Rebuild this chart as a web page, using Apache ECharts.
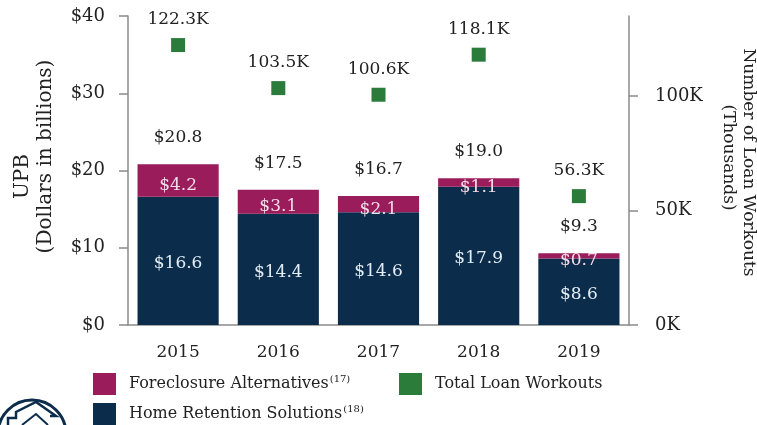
<!DOCTYPE html>
<html>
<head>
<meta charset="utf-8">
<script src="https://cdn.jsdelivr.net/npm/echarts@6/dist/echarts.min.js"></script>
<style>
  html, body { margin: 0; padding: 0; background: #ffffff; }
  #chart { width: 757px; height: 425px; }
</style>
</head>
<body>
<div id="chart"></div>
<script>
// Loan workout activity by year
const years = ['2015', '2016', '2017', '2018', '2019'];
const homeRetention = [16.6, 14.4, 14.6, 17.9, 8.6];          // $ billions
const foreclosureAlternatives = [4.2, 3.1, 2.1, 1.1, 0.7];    // $ billions
const totalWorkouts = [122.3, 103.5, 100.6, 118.1, 56.3];     // thousands of loans
const upbTicks = [0, 10, 20, 30, 40];
const workoutTicks = [0, 50, 100];

const totals = homeRetention.map((v, i) => +(v + foreclosureAlternatives[i]).toFixed(1));

const FONT = 'DejaVu Serif';
const NAVY = '#0c2c4b';
const MAGENTA = '#9a1c5b';
const GREEN = '#2b7b3b';
const AXIS = '#8a8a8a';
const TEXT = '#222222';

const notes = { 'Foreclosure Alternatives': '(17)', 'Home Retention Solutions': '(18)' };

function legendAt(left, top, name) {
  return {
    left: left, top: top, padding: 0,
    itemWidth: 23, itemHeight: 22,
    icon: 'rect',
    data: [name],
    formatter: n => '{t|' + n + '}' + (notes[n] ? '{s|' + notes[n] + '}' : ''),
    textStyle: {
      color: TEXT,
      rich: {
        t: { fontFamily: FONT, fontSize: 16, color: TEXT, padding: [0, 0, 0, 8] },
        s: { fontFamily: FONT, fontSize: 10, color: TEXT, verticalAlign: 'top', padding: [0, 0, 10, 1] }
      }
    }
  };
}

const chart = echarts.init(document.getElementById('chart'));

chart.setOption({
  animation: false,
  textStyle: { fontFamily: FONT },
  grid: { left: 128, right: 128, top: 16, bottom: 100, outerBoundsMode: 'none' },
  legend: [
    legendAt(93, 373, 'Foreclosure Alternatives'),
    legendAt(93, 403, 'Home Retention Solutions'),
    legendAt(399, 373, 'Total Loan Workouts')
  ],
  xAxis: {
    type: 'category',
    data: years,
    axisLine: { lineStyle: { color: AXIS, width: 1.5 } },
    axisTick: { show: false },
    axisLabel: { color: TEXT, fontFamily: FONT, fontSize: 17, margin: 19 }
  },
  yAxis: [
    {
      type: 'value',
      min: 0, max: 40, interval: 10,
      name: '{u|UPB}\n(Dollars in billions)',
      nameLocation: 'middle',
      nameGap: 71,
      nameRotate: 90,
      nameMoveOverlap: false,
      nameTextStyle: {
        color: TEXT, fontFamily: FONT, fontSize: 20, lineHeight: 23,
        padding: [0, 0, 0, 28],
        rich: { u: { fontFamily: FONT, fontSize: 20, color: TEXT, padding: [0, 40, 0, 0] } }
      },
      axisLine: { show: true, lineStyle: { color: AXIS, width: 1.5 } },
      axisTick: { show: true, length: 9, lineStyle: { color: AXIS, width: 1.5 } },
      splitLine: { show: false },
      axisLabel: {
        color: TEXT, fontFamily: FONT, fontSize: 18, margin: 23,
        customValues: upbTicks,
        formatter: v => '$' + v
      }
    },
    {
      type: 'value',
      position: 'right',
      min: 0, max: 135,
      name: 'Number of Loan Workouts\n{p|(Thousands)}',
      nameLocation: 'middle',
      nameGap: 89,
      nameRotate: -90,
      nameMoveOverlap: false,
      nameTextStyle: {
        color: TEXT, fontFamily: FONT, fontSize: 17, lineHeight: 20,
        padding: [0, 16, 0, 0],
        rich: { p: { fontFamily: FONT, fontSize: 17, color: TEXT, padding: [0, 10, 0, 0] } }
      },
      axisLine: { show: true, lineStyle: { color: AXIS, width: 1.5 } },
      axisTick: { show: true, length: 9, customValues: workoutTicks, lineStyle: { color: AXIS, width: 1.5 } },
      splitLine: { show: false },
      axisLabel: {
        color: TEXT, fontFamily: FONT, fontSize: 18, margin: 26,
        customValues: workoutTicks,
        formatter: v => v + 'K'
      }
    }
  ],
  series: [
    {
      name: 'Home Retention Solutions',
      type: 'bar',
      stack: 'upb',
      barWidth: '81%',
      data: homeRetention,
      itemStyle: { color: NAVY },
      label: {
        show: true, position: 'inside', offset: [0, 3],
        color: '#e3edf5', fontFamily: FONT, fontSize: 17,
        formatter: p => '$' + p.value.toFixed(1)
      }
    },
    {
      name: 'Foreclosure Alternatives',
      type: 'bar',
      stack: 'upb',
      barWidth: '81%',
      data: foreclosureAlternatives,
      itemStyle: { color: MAGENTA },
      label: {
        show: true, position: 'inside', offset: [0, 5],
        color: '#f4dde8', fontFamily: FONT, fontSize: 17,
        formatter: p => '$' + p.value.toFixed(1)
      }
    },
    {
      // zero-height cap carrying the stacked total above each bar
      name: 'Total UPB',
      type: 'bar',
      stack: 'upb',
      barWidth: '81%',
      data: totals.map(() => 0),
      itemStyle: { color: 'transparent' },
      label: {
        show: true, position: 'top', distance: 18,
        color: TEXT, fontFamily: FONT, fontSize: 17,
        formatter: p => '$' + totals[p.dataIndex].toFixed(1)
      }
    },
    {
      name: 'Total Loan Workouts',
      type: 'scatter',
      yAxisIndex: 1,
      symbol: 'rect',
      symbolSize: 14,
      data: totalWorkouts,
      itemStyle: { color: GREEN, opacity: 1 },
      label: {
        show: true, position: 'top', distance: 10,
        color: TEXT, fontFamily: FONT, fontSize: 17,
        formatter: p => p.value.toFixed(1) + 'K'
      }
    }
  ],
  graphic: [
    {
      type: 'group',
      silent: true,
      children: [
        { type: 'circle', shape: { cx: 32, cy: 434, r: 34 }, style: { fill: 'none', stroke: NAVY, lineWidth: 3 } },
        { type: 'polyline', shape: { points: [[8, 425], [8, 418], [16, 418], [16, 412], [36, 402], [56, 416], [50, 416]] },
          style: { fill: 'none', stroke: NAVY, lineWidth: 2.5 } },
        { type: 'polyline', shape: { points: [[22, 425], [36, 414], [48, 425]] },
          style: { fill: 'none', stroke: NAVY, lineWidth: 2 } }
      ]
    }
  ]
});
</script>
</body>
</html>
